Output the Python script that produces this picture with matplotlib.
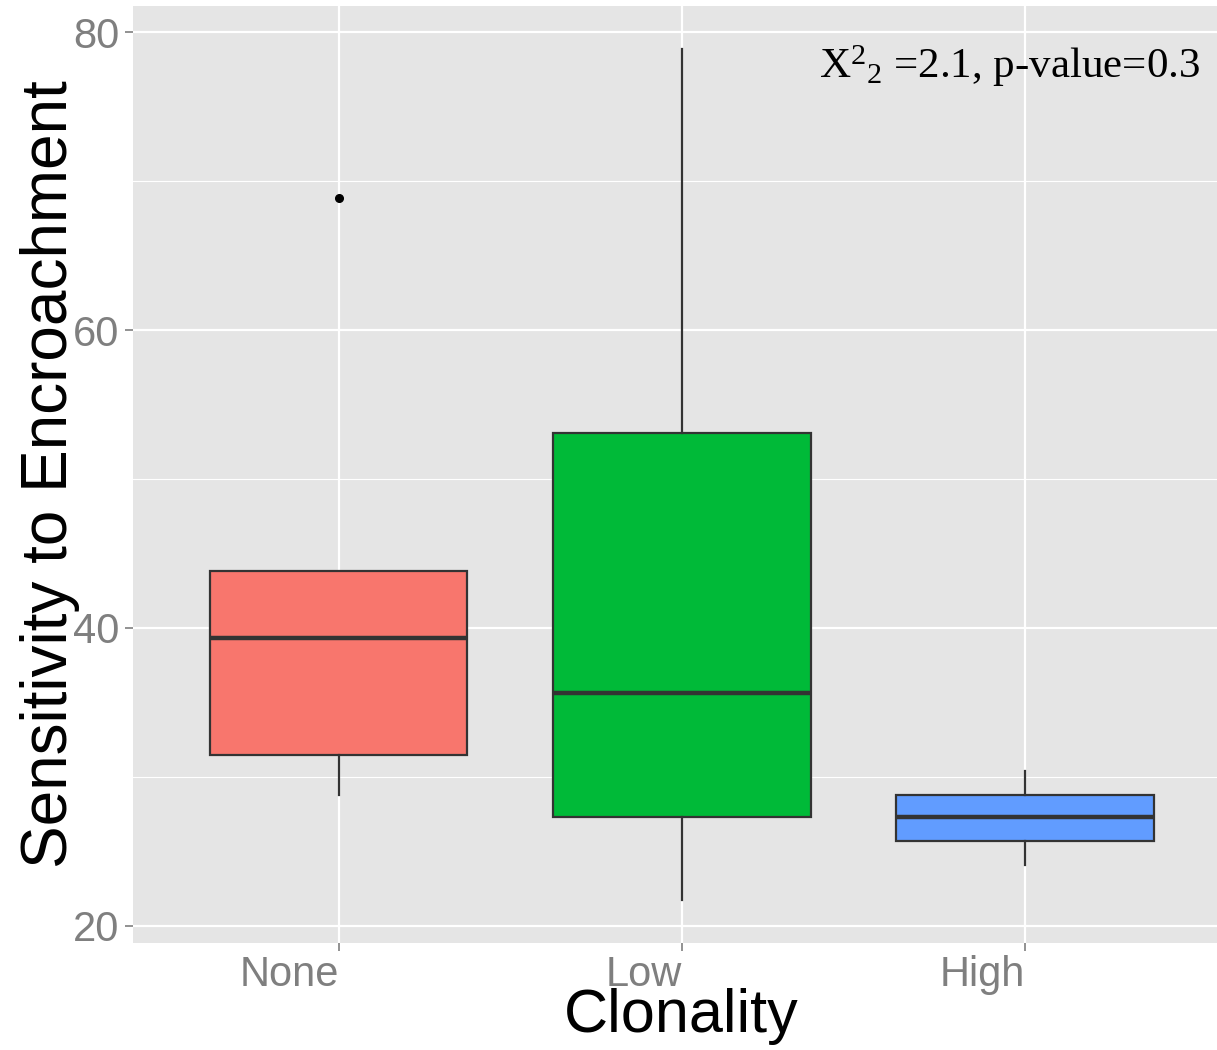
import matplotlib
matplotlib.use("Agg")
import matplotlib.pyplot as plt
from matplotlib.ticker import MultipleLocator

plt.rcParams["mathtext.fontset"] = "custom"
plt.rcParams["mathtext.rm"] = "Liberation Serif"
plt.rcParams["mathtext.it"] = "Liberation Serif:italic"

# Box summaries
groups = ["None", "Low", "High"]
q1 = [31.5, 27.3, 25.7]
medians = [39.3, 35.6, 27.3]
q3 = [43.8, 53.1, 28.8]
whisker_lo = [28.8, 21.7, 24.1]
whisker_hi = [43.8, 78.9, 30.4]
outliers = [[68.9], [], []]
fills = ["#F8766D", "#00BA38", "#619CFF"]

stats = []
for i, g in enumerate(groups):
    stats.append(dict(label=g, q1=q1[i], med=medians[i], q3=q3[i],
                      whislo=whisker_lo[i], whishi=whisker_hi[i], fliers=outliers[i]))

fig = plt.figure(figsize=(12.17, 10.5), dpi=100)
ax = fig.add_axes([0.1093, 0.1022, 0.8907, 0.8921])
ax.set_facecolor("#E5E5E5")

bp = ax.bxp(stats, positions=[1, 2, 3], widths=0.75, patch_artist=True,
            showcaps=False, zorder=3,
            boxprops=dict(edgecolor="#333333", linewidth=1.6),
            whiskerprops=dict(color="#333333", linewidth=1.6),
            medianprops=dict(color="#333333", linewidth=3.2),
            flierprops=dict(marker="o", markerfacecolor="black",
                            markeredgecolor="black", markersize=5.5))
for patch, c in zip(bp["boxes"], fills):
    patch.set_facecolor(c)

ax.set_xlim(0.4, 3.56)
ax.set_ylim(18.86, 81.78)
ax.yaxis.set_major_locator(MultipleLocator(20))
ax.yaxis.set_minor_locator(MultipleLocator(10))
ax.set_xticks([1, 2, 3])
ax.set_xticklabels(groups, ha="right")

ax.grid(which="major", color="white", linewidth=1.6, zorder=0)
ax.grid(which="minor", axis="y", color="white", linewidth=0.8, zorder=0)
ax.set_axisbelow(True)
for s in ax.spines.values():
    s.set_visible(False)

ax.tick_params(which="major", length=6, width=1.2, color="#7F7F7F",
               labelsize=30, labelcolor="#7F7F7F", pad=4)
ax.tick_params(axis="x", pad=3)
ax.tick_params(which="minor", length=0)
for lab in ax.get_xticklabels() + ax.get_yticklabels():
    lab.set_family("Liberation Sans")

ax.set_xlabel("Clonality", fontsize=44, family="Liberation Sans", labelpad=-5)
ax.xaxis.label.set_x(0.506)
ax.set_ylabel("Sensitivity to Encroachment", fontsize=46,
              family="Liberation Sans", labelpad=-5)

ax.text(0.984, 0.96, r"X$^2$$_\mathit{2}$ =2.1, p-value=0.3",
        transform=ax.transAxes, ha="right", va="top", fontsize=31,
        family="Liberation Serif")

fig.savefig("out.png", dpi=100)
